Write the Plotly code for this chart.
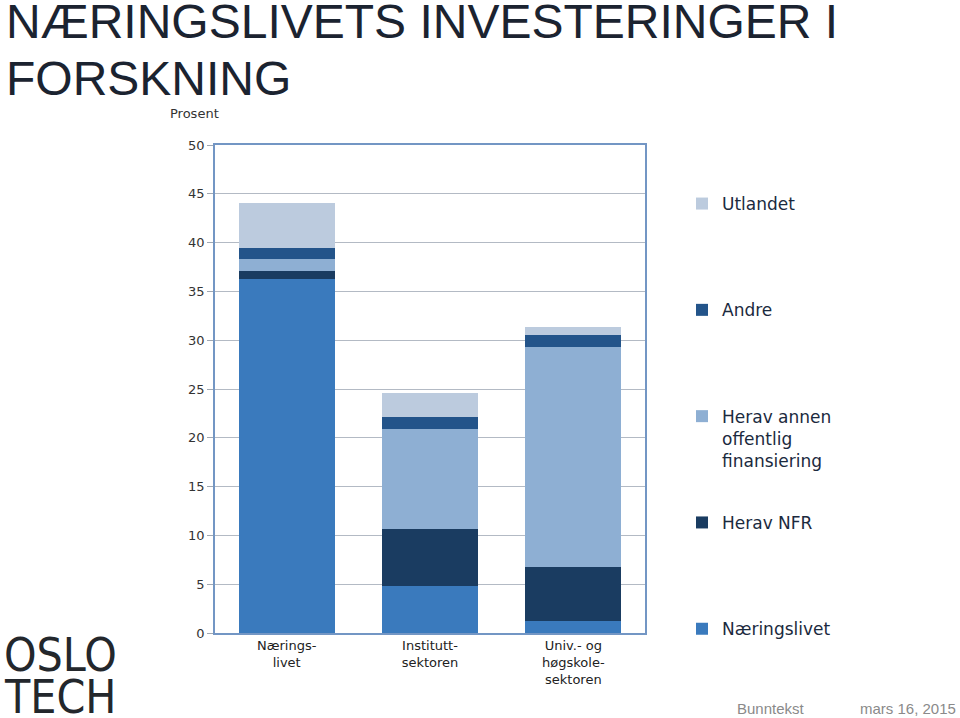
import plotly.graph_objects as go

categories = ["Nærings-<br>livet", "Institutt-<br>sektoren", "Univ.- og<br>høgskole-<br>sektoren"]

naeringslivet = [36.3, 4.85, 1.26]
herav_nfr = [0.82, 5.81, 5.47]
herav_annen = [1.16, 10.25, 22.54]
andre = [1.2, 1.26, 1.29]
utlandet = [4.57, 2.4, 0.76]

series_names = ["Næringslivet", "Herav NFR", "Herav annen<br>offentlig<br>finansiering", "Andre", "Utlandet"]
series_values = [naeringslivet, herav_nfr, herav_annen, andre, utlandet]
series_colors = ["#3a7abd", "#1a3c61", "#8eafd3", "#23548a", "#bccbde"]

y_ticks = [0, 5, 10, 15, 20, 25, 30, 35, 40, 45, 50]

W, H = 960, 718
L, R, T, B = 215, 645, 145, 633

def px(xp):
    return (xp - L) / (R - L)

def py(yp):
    return (B - yp) / (B - T)

fig = go.Figure()
n = len(series_names)
for i, (name, vals, col) in enumerate(zip(series_names, series_values, series_colors)):
    nlines = name.count("<br>") + 1
    label = name + "<br> " * (3 - nlines)
    fig.add_trace(go.Bar(
        x=categories, y=vals, name=label, marker=dict(color=col, line=dict(width=0)),
        legendgroup=f"g{i}", legendrank=n - i, showlegend=True,
    ))

fig.update_layout(
    width=W, height=H,
    barmode="stack", bargap=0.33,
    plot_bgcolor="white", paper_bgcolor="white",
    margin=dict(l=L, r=W - R, t=T, b=H - B, autoexpand=False),
    font=dict(family="DejaVu Sans", color="#1b2330"),
    legend=dict(
        xref="container", yref="container", x=682 / W, xanchor="left",
        y=1 - 186 / H, yanchor="top",
        traceorder="grouped", tracegroupgap=37, valign="top",
        font=dict(family="DejaVu Sans", size=17, color="#1b2a3e"),
        itemwidth=30, bgcolor="rgba(0,0,0,0)", maxheight=700,
    ),
    showlegend=True,
)

fig.update_yaxes(
    range=[0, 50], tickvals=y_ticks, showgrid=True, gridcolor="#b3bac4", gridwidth=1,
    showline=True, linecolor="#7396c4", linewidth=1.5, mirror=True,
    ticks="outside", ticklen=6, tickcolor="#a0a8b3",
    tickfont=dict(family="DejaVu Sans", size=13, color="#333333"), zeroline=False,
)
fig.update_xaxes(
    showline=True, linecolor="#7396c4", linewidth=1.5, mirror=True,
    ticks="", tickfont=dict(family="DejaVu Sans", size=13, color="#222222"),
)

title_font = dict(family="Liberation Sans, Arial", size=48, color="#1b2330")
fig.add_annotation(
    text="NÆRINGSLIVETS INVESTERINGER I", xref="paper", yref="paper",
    x=px(4), xanchor="left", y=py(21), yanchor="middle",
    showarrow=False, font=title_font,
)
fig.add_annotation(
    text="FORSKNING", xref="paper", yref="paper",
    x=px(4), xanchor="left", y=py(79), yanchor="middle",
    showarrow=False, font=title_font,
)

fig.add_annotation(
    text="Prosent", xref="paper", yref="paper",
    x=px(221), xanchor="right", y=py(114), yanchor="middle",
    showarrow=False, font=dict(family="DejaVu Sans", size=13, color="#333333"),
)

# logo text
logo_font = dict(family="DejaVu Sans Condensed, DejaVu Sans", size=46, color="#23272c")
fig.add_annotation(
    text="OSLO", xref="paper", yref="paper",
    x=px(2), xanchor="left", y=py(655), yanchor="middle",
    showarrow=False, font=logo_font,
)
fig.add_annotation(
    text="TECH", xref="paper", yref="paper",
    x=px(2), xanchor="left", y=py(697), yanchor="middle",
    showarrow=False, font=logo_font,
)

# footer
footer_font = dict(family="Liberation Sans, Arial", size=15, color="#8a8a8a")
fig.add_annotation(
    text="Bunntekst", xref="paper", yref="paper",
    x=px(735), xanchor="left", y=py(708), yanchor="middle",
    showarrow=False, font=footer_font,
)
fig.add_annotation(
    text="mars 16, 2015", xref="paper", yref="paper",
    x=px(958), xanchor="right", y=py(708), yanchor="middle",
    showarrow=False, font=footer_font,
)

fig.write_html(
    "out.html",
    config={"displayModeBar": False},
    post_script="document.body.style.margin='0';document.body.style.overflow='hidden';",
)
